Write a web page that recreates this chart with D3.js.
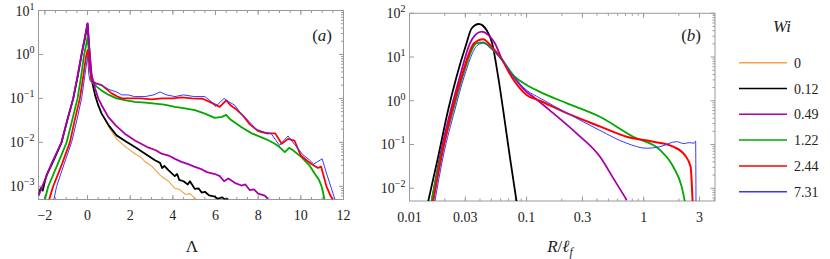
<!DOCTYPE html>
<html><head><meta charset="utf-8">
<script src="https://cdn.jsdelivr.net/npm/d3@7"></script>
<style>
body{margin:0;background:#fff}
svg{display:block}
</style>
</head><body>
<svg id="c" width="830" height="259"></svg>
<script>
// ---------- data ----------
const wiLabels = ["0", "0.12", "0.49", "1.22", "2.44", "7.31"];
const seriesColors = ["#f7a145", "#000000", "#a800a8", "#00a800", "#ff0000", "#3838ff"];
const lambdaTicks = [-2, 0, 2, 4, 6, 8, 10, 12];
const rTicks = [0.01, 0.03, 0.1, 0.3, 1, 3];
const rTickLabels = ["0.01", "0.03", "0.1", "0.3", "1", "3"];
const aDecades = [-3, -2, -1, 0, 1];
const bDecades = [-2, -1, 0, 1, 2];

// panel (a): PDF of Lambda, [Lambda, value]
const lamWi0 = [[-2.3,6.5e-4],[-2.2,8.5e-4],[-2.05,1.2e-3],[-1.9,1.9e-3],[-1.7,3.0e-3],[-1.45,5.5e-3],[-1.22,1e-2],[-0.95,3.2e-2],[-0.67,0.1],[-0.47,0.3],[-0.28,1.0],[-0.13,2.3],[0,5.0],
 [0.05,2.2],[0.1,0.9],[0.19,0.27],[0.35,0.12],[0.5,0.07],[0.66,0.045],[1.0,0.022],[1.36,0.012],[1.8,0.0078],[2.22,0.0055],[2.5,0.0046],[2.7,0.0036],[3.0,0.0029],[3.16,0.0024],[3.4,0.0018],[3.6,0.0015],[3.8,0.0013],[4.09,9e-4],[4.3,8.5e-4],[4.6,6.5e-4],[4.8,6.8e-4],[5.1,5.0e-4]];
const lamWi012 = [[-2.3,6.5e-4],[-2.2,9e-4],[-2.1,8e-4],[-2.0,1.3e-3],[-1.9,1.9e-3],[-1.7,3.0e-3],[-1.45,5.5e-3],[-1.22,1e-2],[-0.95,3.2e-2],[-0.67,0.1],[-0.47,0.3],[-0.28,1.0],[-0.13,2.3],[0,5.0],
 [0.05,2.2],[0.1,0.9],[0.19,0.27],[0.35,0.12],[0.5,0.07],[0.66,0.045],[1.0,0.024],[1.36,0.0144],[1.8,0.0105],[2.22,0.0078],[2.7,0.0055],[3.16,0.0039],[3.4,0.0034],[3.5,0.0026],[3.6,0.0029],[3.8,0.0023],[4.09,0.0017],[4.2,0.0019],[4.3,0.0014],[4.5,0.0013],[4.7,0.0011],[4.8,0.0013],[5.03,8.7e-4],[5.2,9e-4],[5.35,7.2e-4],[5.5,7.5e-4],[5.7,6.2e-4],[5.97,5.8e-4],[6.1,5.2e-4],[6.3,5.6e-4],[6.45,5e-4],[6.6,5.2e-4]];
const lamWi049 = [[-2.3,6e-4],[-2.12,1e-3],[-1.7,3.2e-3],[-1.22,1e-2],[-0.95,3.2e-2],[-0.67,0.1],[-0.47,0.32],[-0.28,1.0],[-0.13,2.3],[0,5.1],
 [0.08,1.5],[0.19,0.35],[0.35,0.17],[0.5,0.1],[0.66,0.07],[0.97,0.038],[1.33,0.024],[1.8,0.015],[2.22,0.011],[2.8,0.0078],[3.2,0.0066],[3.47,0.0055],[3.8,0.005],[4.1,0.0042],[4.4,0.0036],[4.72,0.0032],[5.0,0.0028],[5.3,0.0025],[5.6,0.0021],[5.97,0.0019],[6.2,0.0017],[6.4,0.0013],[6.6,0.0015],[6.9,0.0012],[7.22,0.00104],[7.4,0.0011],[7.6,8.2e-4],[7.8,8.5e-4],[8.0,6.8e-4],[8.31,6.1e-4],[8.45,5.2e-4]];
const lamWi122 = [[-2.0,5e-4],[-1.84,1e-3],[-1.4,3.2e-3],[-0.98,0.01],[-0.72,0.032],[-0.47,0.1],[-0.3,0.32],[-0.16,1.0],[-0.07,1.6],[0,2.5],
 [0.08,0.9],[0.19,0.24],[0.4,0.19],[0.66,0.15],[1.0,0.12],[1.36,0.1],[1.8,0.09],[2.22,0.083],[2.7,0.08],[3.16,0.076],[3.6,0.072],[4.09,0.064],[4.5,0.06],[5.03,0.054],[5.5,0.045],[5.97,0.036],[6.3,0.038],[6.5,0.042],[6.7,0.033],[7.22,0.022],[7.7,0.016],[8.16,0.013],[8.5,0.011],[8.78,0.0093],[9.0,0.0078],[9.25,0.006],[9.45,0.0075],[9.6,0.0068],[10.03,0.0046],[10.4,0.003],[10.66,0.0019],[10.85,0.0014],[10.97,0.001],[11.05,7e-4],[11.1,5e-4]];
const lamWi244 = [[-1.8,5e-4],[-1.61,1e-3],[-1.2,3.2e-3],[-0.83,0.01],[-0.6,0.032],[-0.36,0.1],[-0.2,0.32],[-0.08,0.85],[0,1.25],
 [0.08,0.6],[0.19,0.25],[0.4,0.22],[0.66,0.2],[0.9,0.16],[1.13,0.13],[1.4,0.11],[1.6,0.1],[2.0,0.1],[2.5,0.1],[3.0,0.095],[3.5,0.1],[4.0,0.1],[4.4,0.105],[4.9,0.1],[5.4,0.098],[5.8,0.08],[6.2,0.064],[6.5,0.09],[6.7,0.07],[7.0,0.055],[7.3,0.04],[7.6,0.026],[8.0,0.018],[8.4,0.016],[8.8,0.016],[9.1,0.0093],[9.4,0.012],[9.7,0.011],[10.0,0.005],[10.3,0.0038],[10.5,0.0032],[10.8,0.0026],[10.95,0.0028],[11.2,0.001],[11.4,6e-4],[11.5,5e-4]];
const lamWi731 = [[-1.58,5e-4],[-1.45,1e-3],[-1.1,3.2e-3],[-0.75,0.01],[-0.5,0.032],[-0.28,0.1],[-0.12,0.35],[0,0.9],
 [0.06,0.35],[0.12,0.25],[0.3,0.22],[0.66,0.2],[1.0,0.16],[1.36,0.14],[1.6,0.12],[1.9,0.12],[2.2,0.11],[2.7,0.11],[3.1,0.12],[3.4,0.14],[3.7,0.12],[4.1,0.11],[4.5,0.12],[5.0,0.11],[5.5,0.11],[5.8,0.085],[6.0,0.065],[6.4,0.1],[6.6,0.085],[6.9,0.07],[7.2,0.045],[7.6,0.029],[7.9,0.02],[8.3,0.017],[8.6,0.016],[9.0,0.0085],[9.2,0.011],[9.4,0.014],[9.7,0.009],[10.1,0.0052],[10.4,0.004],[10.6,0.0032],[11.0,0.0042],[11.2,0.002],[11.4,0.001],[11.6,5e-4]];

// panel (b): PDF of R / l_f, [R, value]
const rWi012 = [[0.01442,0.0049],[0.01756,0.052],[0.02138,0.616],[0.02522,3.55],[0.03071,20.6],[0.0339,45],[0.03911,57],[0.0455,41.5],[0.0508,20.6],[0.05718,3.55],[0.0631,0.616],[0.072,0.052],[0.0822,0.0049]];
const rWi049 = [[0.01541,0.0049],[0.01815,0.052],[0.02254,0.616],[0.02692,3.55],[0.0328,20.6],[0.0365,32],[0.04125,38],[0.047,32],[0.0536,20.6],[0.0618,8.8],[0.0793,3.3],[0.1,1.6],[0.1138,1.24],[0.1687,0.52],[0.267,0.18],[0.4227,0.053],[0.55,0.017],[0.716,0.0054]];
const rWi122 = [[0.01541,0.0049],[0.0185,0.052],[0.0236,0.616],[0.0284,3.55],[0.0373,20.6],[0.0426,21.7],[0.0496,16],[0.0618,8.6],[0.0793,3.55],[0.1,2.3],[0.13,1.6],[0.2198,0.88],[0.4227,0.43],[0.815,0.15],[1.377,0.075],[1.79,0.031],[2.11,0.011],[2.25,0.005]];
const rWi244 = [[0.01591,0.0049],[0.01876,0.052],[0.0231,0.616],[0.02781,3.55],[0.0356,20.6],[0.0426,25.4],[0.0496,18],[0.0618,8.6],[0.0744,3.55],[0.1,1.36],[0.13,1.0],[0.2198,0.52],[0.4227,0.26],[0.716,0.15],[1.21,0.116],[1.79,0.089],[2.25,0.057],[2.52,0.031],[2.58,0.012],[2.62,0.005]];
const rWi731 = [[0.01645,0.0049],[0.01936,0.052],[0.0244,0.616],[0.0293,3.55],[0.0385,19],[0.043,20.6],[0.0496,16],[0.0618,8.6],[0.0793,3.3],[0.1,1.75],[0.13,1.15],[0.2198,0.53],[0.4227,0.21],[0.716,0.107],[1.06,0.082],[1.377,0.089],[1.91,0.116],[2.2,0.105],[2.45,0.11],[2.7,0.107],[2.78,0.12],[2.8,0.005]];

const seriesA = [lamWi0, lamWi012, lamWi049, lamWi122, lamWi244, lamWi731];
const seriesB = [null, rWi012, rWi049, rWi122, rWi244, rWi731];
const widthA = [1.1, 1.8, 1.8, 1.8, 1.8, 1.0];
const widthB = [1.1, 1.8, 1.8, 1.8, 2.0, 1.0];
const drawOrderA = [0, 1, 3, 4, 5, 2];
const drawOrderB = [1, 2, 3, 4, 5];

// ---------- drawing ----------
const FONT = "Liberation Serif, DejaVu Serif, serif";
const svg = d3.select("#c");
const frameColor = "#9a9a9a";

function txt(parent) {
  return parent.append("text").style("font-family", FONT).attr("fill", "#222");
}
function supLabel(sel, exp) {
  sel.append("tspan").text("10");
  sel.append("tspan").attr("dy", -6).attr("font-size", 10)
    .text(exp < 0 ? "\u2212" + (-exp) : String(exp));
}

function drawPanel(opt) {
  const {x, y, id} = opt;
  const [x0, x1] = x.range(), [y0, y1] = y.range();
  const g = svg.append("g");
  g.append("clipPath").attr("id", id).append("rect")
    .attr("x", x0).attr("y", y1).attr("width", x1 - x0).attr("height", y0 - y1);

  const tk = g.append("g").attr("stroke", frameColor).attr("stroke-width", 1);
  opt.xMinor.forEach(v => {
    const px = x(v);
    if (px < x0 + 0.5 || px > x1 - 0.5) return;
    tk.append("line").attr("x1", px).attr("x2", px).attr("y1", y0).attr("y2", y0 - 2.5);
    tk.append("line").attr("x1", px).attr("x2", px).attr("y1", y1).attr("y2", y1 + 2.5);
  });
  opt.xMajor.forEach(v => {
    const px = x(v);
    tk.append("line").attr("x1", px).attr("x2", px).attr("y1", y0).attr("y2", y0 - 4.5);
    tk.append("line").attr("x1", px).attr("x2", px).attr("y1", y1).attr("y2", y1 + 4.5);
  });
  opt.yDecades.forEach(e => {
    const py = y(Math.pow(10, e));
    tk.append("line").attr("x1", x0).attr("x2", x0 + 4.5).attr("y1", py).attr("y2", py);
    tk.append("line").attr("x1", x1).attr("x2", x1 - 4.5).attr("y1", py).attr("y2", py);
  });
  const [ya, yb] = y.domain();
  for (let e = Math.floor(Math.log10(ya)); e <= Math.ceil(Math.log10(yb)); e++) {
    for (let m = 2; m <= 9; m++) {
      const v = m * Math.pow(10, e);
      if (v < ya || v > yb) continue;
      const py = y(v);
      tk.append("line").attr("x1", x1).attr("x2", x1 - 2.5).attr("y1", py).attr("y2", py);
    }
  }
  g.append("rect").attr("x", x0).attr("y", y1).attr("width", x1 - x0).attr("height", y0 - y1)
    .attr("fill", "none").attr("stroke", frameColor).attr("stroke-width", 1);

  const line = d3.line().x(d => x(d[0])).y(d => y(d[1])).curve(opt.curve);
  const cg = g.append("g").attr("clip-path", `url(#${id})`);
  opt.order.forEach(i => {
    const data = opt.series[i];
    if (!data) return;
    cg.append("path").datum(data).attr("d", line)
      .attr("fill", "none").attr("stroke", seriesColors[i])
      .attr("stroke-width", opt.widths[i]).attr("stroke-linejoin", "round");
  });

  opt.xMajor.forEach((v, k) => {
    txt(g).attr("x", x(v)).attr("y", y0 + opt.xLabelDy)
      .attr("text-anchor", "middle").attr("font-size", 14)
      .text(opt.xFmt(v, k));
  });
  opt.yDecades.forEach(e => {
    const t = txt(g).attr("x", x0 - 4).attr("y", y(Math.pow(10, e)) + 5)
      .attr("text-anchor", "end").attr("font-size", 14);
    supLabel(t, e);
  });
  const tag = txt(g).attr("x", opt.tagX).attr("y", opt.tagY).attr("text-anchor", "end")
    .attr("font-size", 17);
  tag.append("tspan").text("(");
  tag.append("tspan").attr("font-style", "italic").text(opt.tag);
  tag.append("tspan").text(")");
  return g;
}

// panel (a)
const xA = d3.scaleLinear().domain([-2.3, 12]).range([38.5, 343.5]);
const yA = d3.scaleLog().domain([5e-4, 10]).range([199.5, 10.5]);
const minorA = d3.range(-2, 12.01, 0.5);
drawPanel({
  id: "clipA", x: xA, y: yA, xMajor: lambdaTicks, xMinor: minorA, yDecades: aDecades,
  xFmt: v => v < 0 ? "\u2212" + (-v) : String(v), xLabelDy: 20,
  series: seriesA, widths: widthA, order: drawOrderA, curve: d3.curveLinear,
  tag: "a", tagX: 332, tagY: 41
});
txt(svg).attr("x", 192).attr("y", 252).attr("text-anchor", "middle")
  .attr("font-size", 17).text("\u039B");

// panel (b)
const xB = d3.scaleLog().domain([0.01, 4.07]).range([409.5, 715]);
const yB = d3.scaleLog().domain([0.0051, 100]).range([201, 13.3]);
const minorB = [];
for (let e = -2; e <= 0; e++) for (let m = 1; m <= 9; m++) minorB.push(m * Math.pow(10, e));
drawPanel({
  id: "clipB", x: xB, y: yB, xMajor: rTicks, xMinor: minorB, yDecades: bDecades,
  xFmt: (v, k) => rTickLabels[k], xLabelDy: 21,
  series: seriesB, widths: widthB, order: drawOrderB, curve: d3.curveMonotoneX,
  tag: "b", tagX: 701, tagY: 41
});
const xl = txt(svg).attr("x", 560).attr("y", 252).attr("text-anchor", "middle")
  .attr("font-size", 17);
xl.append("tspan").attr("font-style", "italic").text("R");
xl.append("tspan").text("/");
xl.append("tspan").attr("font-style", "italic").text("\u2113");
xl.append("tspan").attr("dy", 4).attr("font-size", 12).attr("font-style", "italic").text("f");

// legend
const lg = svg.append("g");
txt(lg).attr("x", 782).attr("y", 32).attr("text-anchor", "middle")
  .attr("font-size", 17).attr("font-style", "italic").text("Wi");
const legY = d3.scaleLinear().domain([0, 5]).range([62.7, 191.7]);
wiLabels.forEach((lab, i) => {
  const yy = legY(i);
  lg.append("line").attr("x1", 739).attr("x2", 787).attr("y1", yy).attr("y2", yy)
    .attr("stroke", seriesColors[i]).attr("stroke-width", i === 5 ? 1.4 : 1.5);
  txt(lg).attr("x", 794).attr("y", yy + 5).attr("font-size", 14).text(lab);
});
</script>
</body></html>
